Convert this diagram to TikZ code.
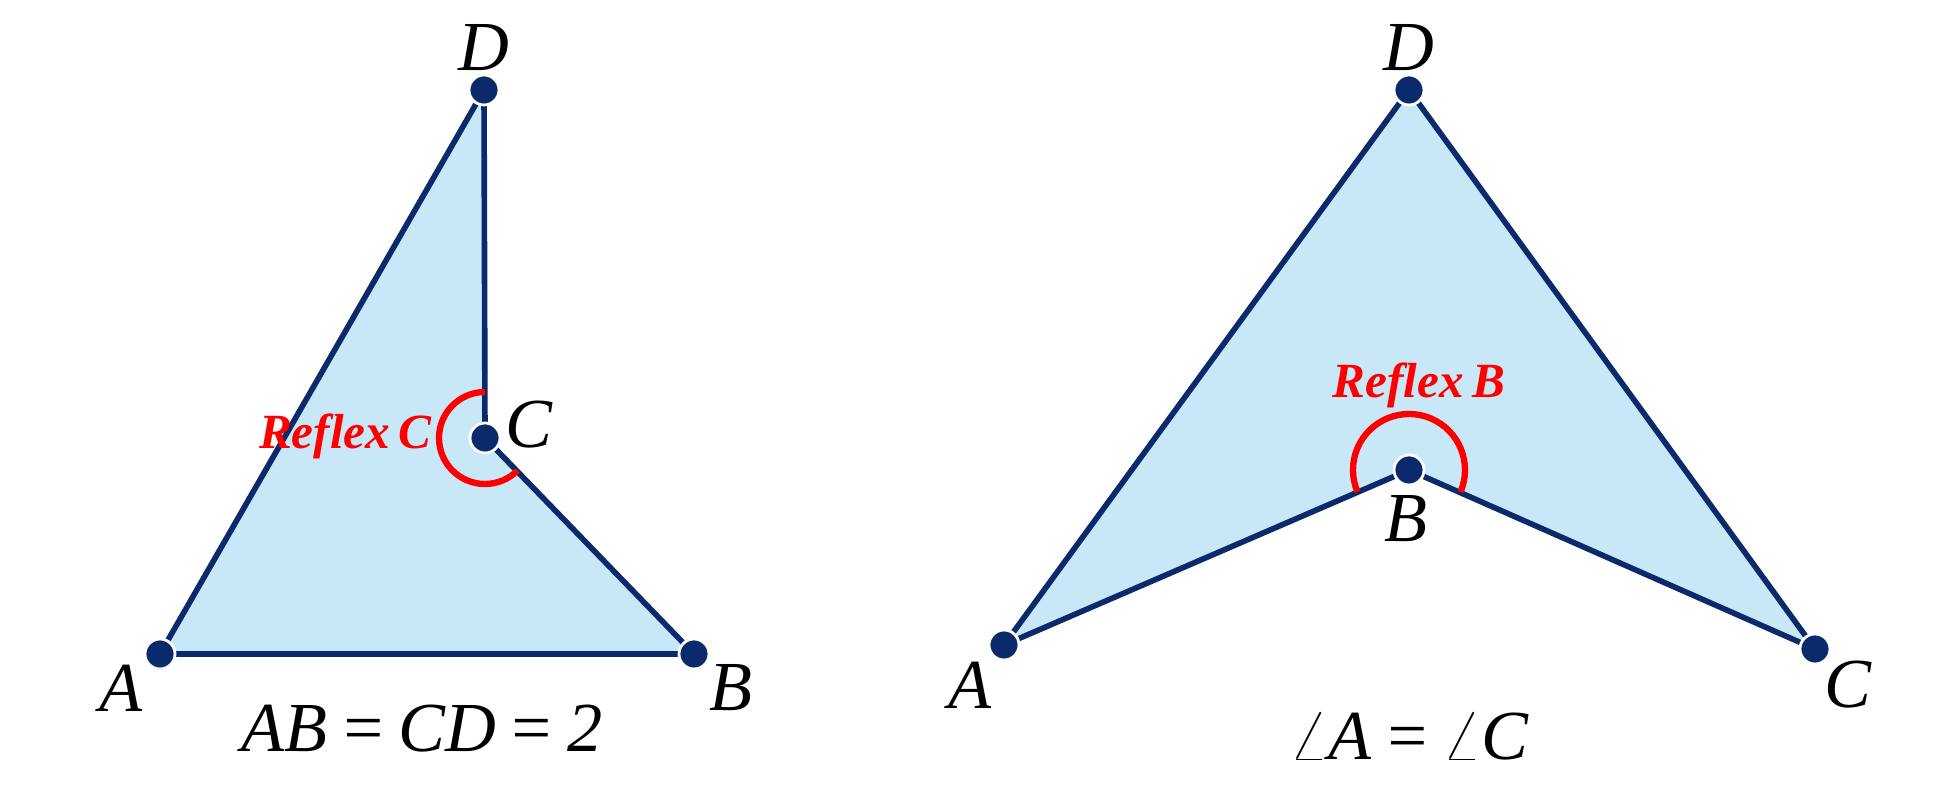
\documentclass[tikz,border=0pt]{standalone}
\usepackage{fontspec}
\setmainfont{Liberation Serif}
\begin{document}
\begin{tikzpicture}[
  every node/.style={font=\fontsize{20}{22}\selectfont\itshape},
  side/.style={draw=navy, line width=1.6pt},
  dot/.style={circle, fill=navy, draw=white, line width=0.8pt, minimum size=0.3cm, inner sep=0pt},
  reflex/.style={draw=red, line width=1.8pt},
  rlabel/.style={text=red, font=\fontsize{14}{16}\selectfont\bfseries\itshape}]
\definecolor{navy}{HTML}{0B2A6B}
\definecolor{paleblue}{HTML}{C8E8F8}
\useasboundingbox (0,0) rectangle (19.59,8.03);
% left figure
\coordinate (lA) at (1.60,1.49);
\coordinate (lB) at (6.94,1.49);
\coordinate (lC) at (4.85,3.65);
\coordinate (lD) at (4.84,7.13);
\fill[paleblue] (lA) -- (lB) -- (lC) -- (lD) -- cycle;
\draw[side] (lA) -- (lB) -- (lC) -- (lD) -- cycle;
\draw[reflex] ([shift={(90:0.46)}]lC) arc (90:315:0.46);
\node[dot] (nlA) at (lA) {};
\node[dot] (nlB) at (lB) {};
\node[dot] (nlC) at (lC) {};
\node[dot] (nlD) at (lD) {};
\node at (1.21,1.15) {A};
\node at (7.31,1.15) {B};
\node at (5.29,3.78) {C};
\node at (4.84,7.55) {D};
\node[rlabel, anchor=east, inner sep=0pt] at (4.32,3.67) {Reflex\,C};
\node at (4.22,0.74) {AB\,=\,CD\,=\,2};
% right figure
\coordinate (rA) at (10.04,1.58);
\coordinate (rB) at (14.09,3.33);
\coordinate (rC) at (18.15,1.54);
\coordinate (rD) at (14.09,7.13);
\fill[paleblue] (rA) -- (rB) -- (rC) -- (rD) -- cycle;
\draw[side] (rA) -- (rB) -- (rC) -- (rD) -- cycle;
\draw[reflex] ([shift={(-23:0.56)}]rB) arc (-23:203:0.56);
\node[dot] (nrA) at (rA) {};
\node[dot] (nrB) at (rB) {};
\node[dot] (nrC) at (rC) {};
\node[dot] (nrD) at (rD) {};
\node at (9.70,1.18) {A};
\node at (14.06,2.84) {B};
\node at (18.48,1.18) {C};
\node at (14.09,7.55) {D};
\node[rlabel] at (14.19,4.18) {Reflex\,B};
\node at (14.09,0.66) {$\angle$A\,=\,$\angle$C};
\end{tikzpicture}
\end{document}
